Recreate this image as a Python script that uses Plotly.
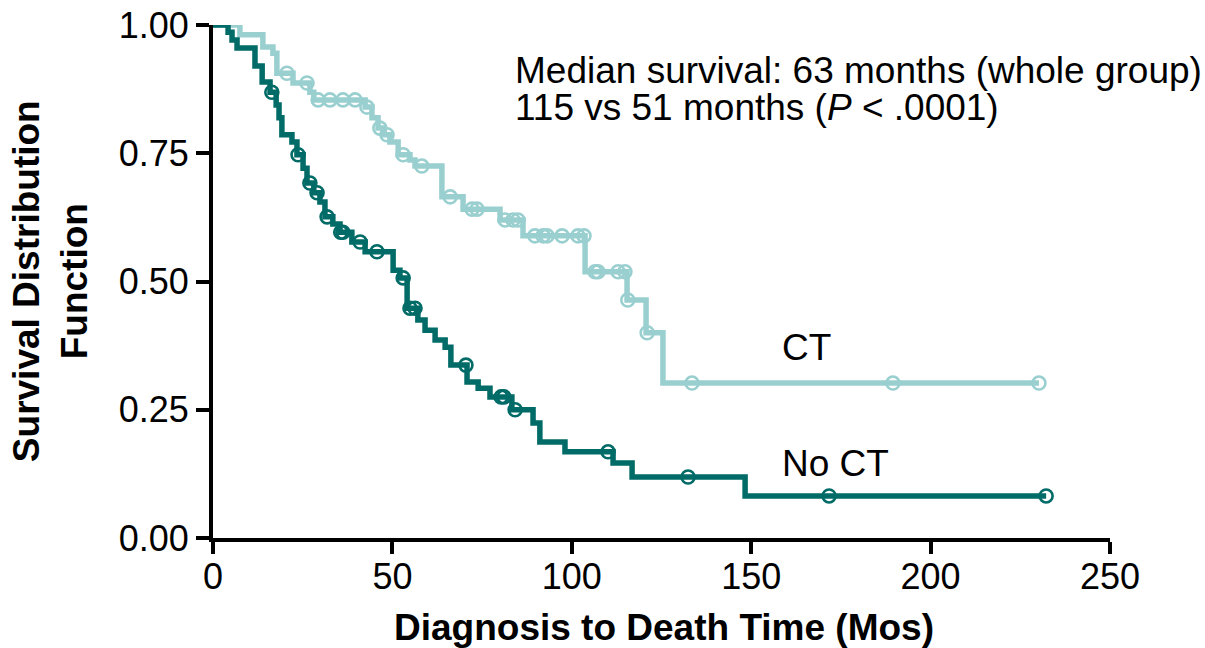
import numpy as np
import plotly.graph_objects as go

# ---- Data ----
# CT group: step times (months) and survival after each step
ct_times = [0, 7.5, 13.9, 16.7, 17.8, 22.3, 27.0, 28.1, 42.4, 44.3, 46.0, 47.7, 49.3, 51.6,
            54.9, 56.3, 63.8, 69.7, 80.0, 86.4, 103.7, 115.4, 120.7, 125.4]
ct_surv = [1.0, 0.981, 0.957, 0.945, 0.906, 0.887, 0.869, 0.854, 0.840, 0.819, 0.799, 0.786,
           0.772, 0.747, 0.737, 0.725, 0.665, 0.641, 0.620, 0.589, 0.519, 0.464, 0.400, 0.302]
ct_censor = [20.6, 26.2, 29.3, 32.6, 36.2, 39.6, 42.9, 46.5, 48.5, 53.0, 58.2, 66.1, 72.2, 73.6,
             81.4, 83.6, 85.0, 89.7, 92.0, 93.1, 97.3, 101.7, 103.4, 106.5, 107.3, 112.9, 114.8,
             115.6, 121.0, 133.5, 189.5, 230.2]

# No CT group
nct_times = [0, 4.2, 5.3, 6.7, 11.7, 13.7, 15.9, 17.6, 18.4, 19.2, 22.0, 23.4, 25.1, 26.2, 28.1,
             29.8, 31.2, 33.4, 35.4, 38.7, 42.4, 50.2, 52.1, 54.1, 57.1, 59.1, 61.9, 64.7, 66.3,
             70.8, 73.9, 77.2, 83.3, 89.2, 91.1, 98.1, 111.5, 116.8, 148.3]
nct_surv = [1.0, 0.986, 0.971, 0.955, 0.920, 0.889, 0.869, 0.844, 0.819, 0.786, 0.772, 0.747,
            0.721, 0.692, 0.673, 0.655, 0.626, 0.612, 0.596, 0.577, 0.558, 0.522, 0.507, 0.448,
            0.425, 0.405, 0.386, 0.372, 0.337, 0.304, 0.292, 0.275, 0.250, 0.224, 0.187, 0.168,
            0.146, 0.119, 0.082]
nct_censor = [16.4, 23.7, 27.0, 29.0, 31.8, 35.6, 36.2, 41.0, 45.7, 53.0, 54.9, 56.3, 70.5, 80.3,
              81.1, 84.2, 110.1, 132.4, 171.7, 232.2]

x_ticks = [0, 50, 100, 150, 200, 250]
y_ticks = [0, 0.25, 0.5, 0.75, 1.0]
y_ticklabels = ["0.00", "0.25", "0.50", "0.75", "1.00"]

LIGHT = "#9ACFD0"
DARK = "#006B67"
FONT = "Liberation Sans, Arial, sans-serif"


def step_at(times, surv, t):
    idx = np.searchsorted(np.array(times), np.array(t), side="right") - 1
    return [surv[i] for i in idx]


fig = go.Figure()

for times, surv, cens, col, nm in [
    (ct_times, ct_surv, ct_censor, LIGHT, "CT"),
    (nct_times, nct_surv, nct_censor, DARK, "No CT"),
]:
    xs = list(times) + [cens[-1]]
    ys = list(surv) + [surv[-1]]
    fig.add_trace(go.Scatter(x=xs, y=ys, mode="lines", line=dict(shape="hv", color=col, width=5.5),
                             cliponaxis=False, name=nm, showlegend=False, hoverinfo="skip"))
    fig.add_trace(go.Scatter(x=cens, y=step_at(times, surv, cens), mode="markers",
                             marker=dict(symbol="circle-open", size=13, color=col,
                                         line=dict(width=2.6, color=col)),
                             cliponaxis=False, showlegend=False, name=nm + " censored"))

axis_common = dict(showline=True, linecolor="black", linewidth=4, ticks="outside",
                   tickwidth=4, tickcolor="black", showgrid=False, zeroline=False,
                   automargin=False,
                   tickfont=dict(family=FONT, size=36, color="black"))

fig.update_xaxes(range=[0, 250], tickvals=x_ticks, ticklen=12, ticklabelstandoff=-8, **axis_common)
fig.update_yaxes(range=[0, 1], tickvals=y_ticks, ticktext=y_ticklabels, ticklen=13, **axis_common)

TXT = 37
annotations = [
    dict(x=83.6, y=0.912, xref="x", yref="y", text="Median survival: 63 months (whole group)",
         xanchor="left", yanchor="middle", showarrow=False, font=dict(family=FONT, size=TXT, color="black")),
    dict(x=83.6, y=0.840, xref="x", yref="y", text="115 vs 51 months (<i>P</i> < .0001)",
         xanchor="left", yanchor="middle", showarrow=False, font=dict(family=FONT, size=TXT, color="black")),
    dict(x=158.0, y=0.372, xref="x", yref="y", text="CT", xanchor="left", yanchor="middle",
         showarrow=False, font=dict(family=FONT, size=TXT, color="black")),
    dict(x=158.0, y=0.146, xref="x", yref="y", text="No CT", xanchor="left", yanchor="middle",
         showarrow=False, font=dict(family=FONT, size=TXT, color="black")),
    dict(x=0.503, y=-0.175, xref="paper", yref="paper", text="<b>Diagnosis to Death Time (Mos)</b>",
         xanchor="center", yanchor="middle", showarrow=False, font=dict(family=FONT, size=37, color="black")),
    dict(x=-0.181, y=0.5, xref="paper", yref="paper", text="<b>Survival Distribution<br>Function</b>",
         xanchor="center", yanchor="middle", textangle=-90, showarrow=False,
         font=dict(family=FONT, size=37, color="black")),
]

fig.update_layout(width=1205, height=648, margin=dict(l=213, r=95, t=25, b=110),
                  paper_bgcolor="white", plot_bgcolor="white", annotations=annotations,
                  showlegend=False)

fig.write_html("out.html")
